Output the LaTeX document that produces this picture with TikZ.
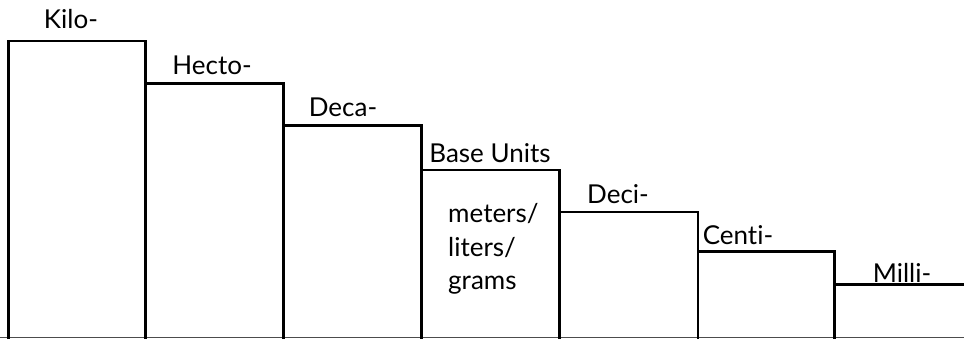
\documentclass[tikz,border=0pt]{standalone}
\usepackage{fontspec}
\setmainfont{Lato}[Ligatures={NoCommon}]
\begin{document}
\begin{tikzpicture}[x=1pt,y=-1pt,
  stepline/.style={line width=2.8pt, line join=miter},
  steplabel/.style={anchor=base, inner sep=0pt, font=\fontsize{26}{30}\selectfont},
  unitlabel/.style={anchor=base west, inner sep=0pt, align=left, font=\fontsize{26}{34}\selectfont}]
  \useasboundingbox (0,0) rectangle (964,339);
  % baseline of the staircase
  \draw[line width=1pt, black!70] (0,337.5) -- (964,337.5);
  % the seven steps, left to right
  \draw[stepline] (8.5,345) -- (8.5,41) -- (145.5,41) -- (145.5,345);
  \draw[stepline] (145.5,83.5) -- (283.5,83.5) -- (283.5,345);
  \draw[stepline] (283.5,125.7) -- (421.5,125.7) -- (421.5,345);
  \draw[stepline] (421.5,170) -- (559.5,170) -- (559.5,345);
  \draw[stepline] (559.5,212) -- (698,212) -- (698,345);
  \draw[stepline] (698,251.7) -- (834.5,251.7) -- (834.5,345);
  \draw[stepline] (834.5,284.3) -- (970,284.3);
  % prefix names above each step
  \node[steplabel] (kilo)  at (71,29)   {Kilo-};
  \node[steplabel] (hecto) at (212,75)  {Hecto-};
  \node[steplabel] (deca)  at (343,117) {Deca-};
  \node[steplabel] (base)  at (490,163) {Base Units};
  \node[steplabel] (deci)  at (618,204) {Deci-};
  \node[steplabel] (centi) at (738,244) {Centi-};
  \node[steplabel] (milli) at (902,282) {Milli-};
  % base units listed inside the middle step (anchored on the last line)
  \node[unitlabel] (units) at (448,290) {meters/\\liters/\\grams};
\end{tikzpicture}
\end{document}
